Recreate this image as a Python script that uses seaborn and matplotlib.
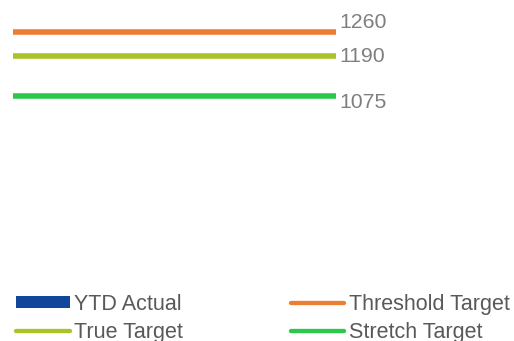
import matplotlib
matplotlib.use("Agg")
import matplotlib.pyplot as plt
import seaborn as sns
import pandas as pd
from matplotlib.lines import Line2D
from matplotlib.patches import Patch

series = ["Threshold Target", "True Target", "Stretch Target"]
values = [1260, 1190, 1075]
label_offsets_px = [10, 0, -6.5]
colors = {"Threshold Target": "#ED7D31", "True Target": "#A9C427", "Stretch Target": "#2CC84C"}
ytd_label = "YTD Actual"
ytd_color = "#11469A"
# column-major order so rows read: YTD Actual | Threshold Target / True Target | Stretch Target
legend_order = ["YTD Actual", "True Target", "Threshold Target", "Stretch Target"]

sns.set_theme(style="white")
plt.rcParams["font.family"] = ["Liberation Sans", "DejaVu Sans"]

W, H = 514, 341
fig = plt.figure(figsize=(W / 100, H / 100), dpi=100)
ax_top, ax_bot = 10, 270
ax_left, ax_right = 13, 336
ax = fig.add_axes([ax_left / W, 1 - ax_bot / H, (ax_right - ax_left) / W, (ax_bot - ax_top) / H])

rows = []
for s, v in zip(series, values):
    rows.append({"x": 0, "value": v, "series": s})
    rows.append({"x": 1, "value": v, "series": s})
df = pd.DataFrame(rows)
sns.lineplot(data=df, x="x", y="value", hue="series", palette=colors, linewidth=4,
             legend=False, ax=ax, solid_capstyle="butt")

scale = (95.5 - 32) / (values[0] - values[2])
ymax = values[0] + (32 - ax_top) / scale
ymin = values[0] - (ax_bot - 32) / scale
ax.set_xlim(0, 1)
ax.set_ylim(ymin, ymax)
ax.set_axis_off()

for s, v, off in zip(series, values, label_offsets_px):
    ax.annotate(str(v), xy=(1, v), xytext=(3, off), textcoords="offset pixels",
                ha="left", va="center", fontsize=15.3, color="#7F7F7F")

handles = {
    ytd_label: Patch(facecolor=ytd_color, edgecolor="none"),
}
for s in series:
    handles[s] = Line2D([0], [0], color=colors[s], linewidth=3.1, solid_capstyle="round")

leg = fig.legend([handles[k] for k in legend_order], legend_order, ncol=2,
                 loc="upper left", bbox_to_anchor=(16 / W, 1 - 294 / H),
                 frameon=False, fontsize=15.5, handlelength=2.5, handleheight=0.5,
                 handletextpad=0.2, columnspacing=5.0, labelspacing=0.31,
                 borderpad=0, borderaxespad=0)
for t in leg.get_texts():
    t.set_color("#595959")

fig.savefig("out.png", dpi=100)
